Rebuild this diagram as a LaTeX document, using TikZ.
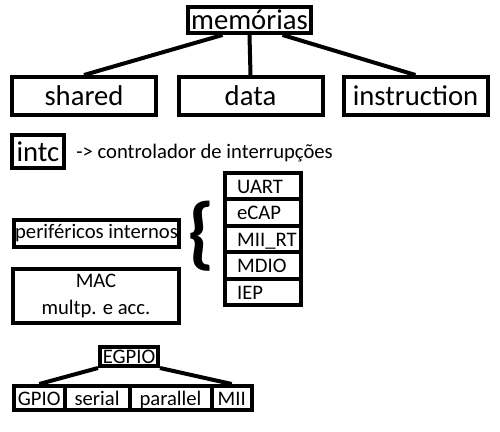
\documentclass[tikz,border=0pt]{standalone}
\usepackage{fontspec}
\setmainfont{Carlito}
\usetikzlibrary{positioning,calc}

\begin{document}
\begin{tikzpicture}[x=0.75pt,y=-0.75pt,
    caixa/.style={draw,line width=3pt,inner sep=0pt,font=\fontsize{15.5}{20.25}\selectfont},
    grande/.style={caixa,font=\fontsize{21.5}{25}\selectfont},
    linha/.style={caixa,minimum width=57pt,minimum height=19.8pt,inner xsep=9.5pt,text width=38pt,align=left,text height=12.5pt,text depth=1.5pt},
    fila/.style={caixa,minimum height=18pt,text height=12.5pt,text depth=1.5pt},
    liga/.style={line width=3pt}]
  \useasboundingbox (0,0) rectangle (500,432);
  % memorias
  \node[grande,minimum width=92pt,minimum height=19.5pt] (mem) at (249.5,20) {memórias};
  \node[grande,minimum width=108pt,minimum height=28.5pt] (shared) at (84,96) {shared};
  \node[grande,minimum width=108pt,minimum height=28.5pt] (data) at (250.5,96) {data};
  \node[grande,minimum width=108pt,minimum height=28.5pt] (instr) at (415.5,96) {instruction};
  \draw[liga] ($(mem.south)+(-27,0)$) -- (shared.north);
  \draw[liga] (mem.south) -- (data.north);
  \draw[liga] ($(mem.south)+(33,0)$) -- (instr.north);
  % intc
  \node[grande,minimum width=39pt,minimum height=24.75pt] (intc) at (38,151.5) {intc};
  \node[anchor=west,inner sep=0pt,font=\fontsize{15.5}{20.25}\selectfont] (ctrl) at (76,153) {-> controlador de interrupções};
  % perifericos
  \node[caixa,minimum width=123.75pt,minimum height=20.25pt] (perif) at (96.5,233.5) {periféricos internos};
  \node[caixa,minimum width=124.5pt,minimum height=40.5pt,align=center] (mac) at (96,296) {MAC\\multp. e acc.};
  \node[inner sep=0pt,font=\fontsize{60}{60}\selectfont\bfseries] (chave) at (201,236) {\{};
  \node[linha] (uart) at (262.5,186.2) {UART};
  \node[linha,below=-3pt of uart] (ecap) {eCAP};
  \node[linha,below=-3pt of ecap] (miirt) {MII\_RT};
  \node[linha,below=-3pt of miirt] (mdio) {MDIO};
  \node[linha,below=-3pt of mdio] (iep) {IEP};
  % EGPIO
  \node[caixa,minimum width=43.5pt,minimum height=14.25pt] (egpio) at (129,356.5) {EGPIO};
  \node[fila,minimum width=37.9pt] (gpio) at (39.25,398) {GPIO};
  \node[fila,minimum width=48.75pt,right=-3pt of gpio] (serial) {serial};
  \node[fila,minimum width=61.5pt,right=-3pt of serial] (parallel) {parallel};
  \node[fila,minimum width=30.4pt,right=-3pt of parallel] (mii) {MII};
  \draw[liga] (egpio.south west) -- (gpio.north);
  \draw[liga] (egpio.south east) -- (mii.north);
\end{tikzpicture}
\end{document}
